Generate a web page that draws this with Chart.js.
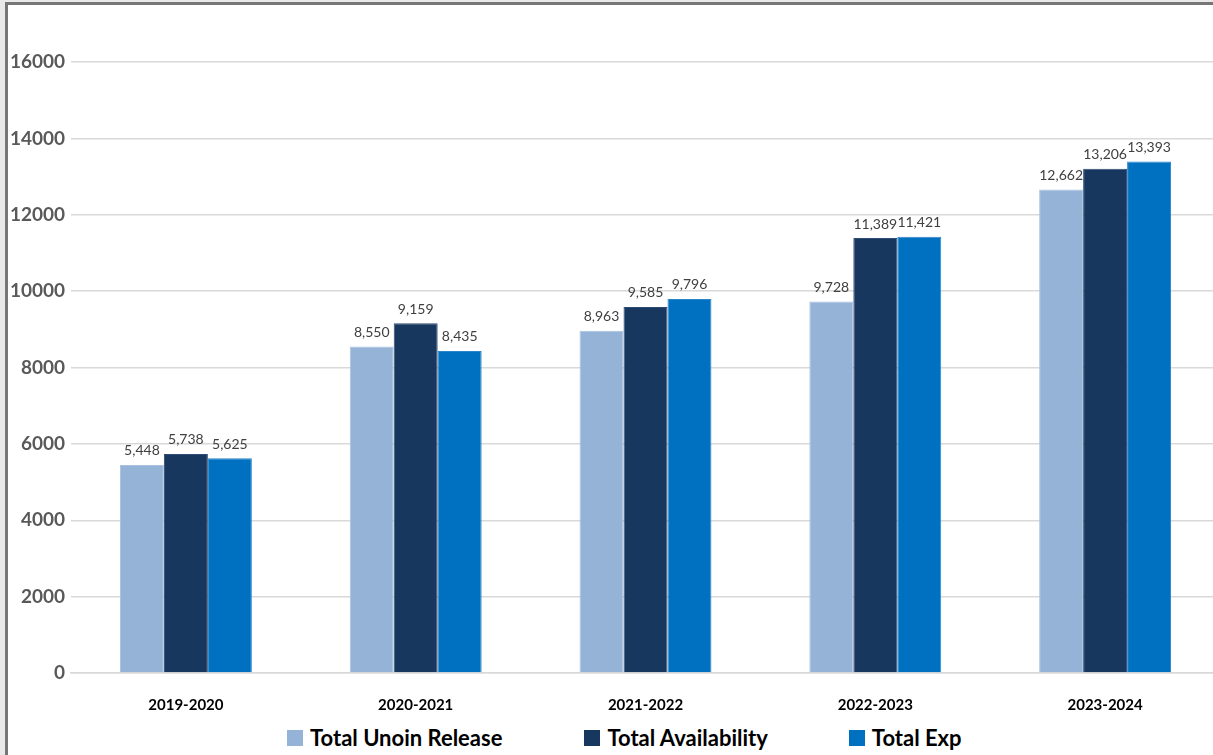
<!DOCTYPE html>
<html>
<head>
<meta charset="utf-8">
<script src="https://cdn.jsdelivr.net/npm/chart.js@4.4.1/dist/chart.umd.min.js"></script>
<style>
  html, body { margin: 0; padding: 0; width: 1213px; height: 755px; overflow: hidden; background: #e9e9e9; }
  #frame { position: absolute; left: 5px; top: 2px; width: 1240px; height: 800px; background: #ffffff;
           border-left: 3px solid #767676; border-top: 3px solid #767676; }
  #wrap { position: absolute; left: 0; top: 0; width: 1225px; height: 712px; }
  #legend { position: absolute; left: 287px; top: 724px; display: flex; align-items: center;
            font-family: Lato, "Open Sans", sans-serif; font-weight: bold; font-size: 22px; color: #000; }
  .item { display: flex; align-items: center; }
  .item:nth-child(1) { margin-right: 82px; }
  .item:nth-child(2) { margin-right: 81px; }
  .box { width: 16px; height: 16px; margin-right: 7px; }
</style>
</head>
<body>
<div id="frame"></div>
<div id="wrap"><canvas id="c"></canvas></div>
<div id="legend"></div>
<script>
const categories = ["2019-2020", "2020-2021", "2021-2022", "2022-2023", "2023-2024"];
const seriesNames = ["Total Unoin Release", "Total Availability", "Total Exp"];
const unionRelease = [5448, 8550, 8963, 9728, 12662];
const availability = [5738, 9159, 9585, 11389, 13206];
const expenditure = [5625, 8435, 9796, 11421, 13393];
const yTicks = [0, 2000, 4000, 6000, 8000, 10000, 12000, 14000, 16000];

const colors = ["#95B3D7", "#17375E", "#0070C0"];
const borders = ["#a8c2e0", "#2d4c73", "#2a86cc"];

const valueLabels = {
  id: "valueLabels",
  afterDatasetsDraw(chart) {
    const ctx = chart.ctx;
    ctx.save();
    ctx.font = "14px Lato, 'Open Sans', sans-serif";
    ctx.fillStyle = "#404040";
    ctx.textAlign = "center";
    ctx.textBaseline = "bottom";
    chart.data.datasets.forEach((ds, i) => {
      chart.getDatasetMeta(i).data.forEach((bar, j) => {
        ctx.fillText(ds.data[j].toLocaleString("en-US"), bar.x, bar.y - 7);
      });
    });
    ctx.restore();
  }
};

const chart = new Chart(document.getElementById("c"), {
  type: "bar",
  data: {
    labels: categories,
    datasets: [unionRelease, availability, expenditure].map((d, i) => ({
      label: seriesNames[i],
      data: d,
      backgroundColor: colors[i],
      borderColor: borders[i],
      borderWidth: 1,
      barPercentage: 1,
      categoryPercentage: 0.574
    }))
  },
  options: {
    responsive: true,
    maintainAspectRatio: false,
    animation: false,
    layout: { padding: { top: 62, right: 5, left: 0, bottom: 0 } },
    plugins: { legend: { display: false }, tooltip: { enabled: false } },
    scales: {
      x: {
        grid: { display: false },
        border: { display: true, color: "#d9d9d9", width: 1.5 },
        ticks: { color: "#000", padding: 15, font: { family: "Lato, 'Open Sans', sans-serif", size: 15, weight: "bold" } },
        afterFit(scale) { scale.height = 39; }
      },
      y: {
        min: 0, max: 16000,
        afterBuildTicks(scale) { scale.ticks = yTicks.map(v => ({ value: v })); },
        grid: { color: "#d9d9d9", lineWidth: 1.5, drawTicks: false },
        border: { display: false },
        ticks: {
          color: "#595959", padding: 6,
          font: { family: "Lato, 'Open Sans', sans-serif", size: 19, weight: "bold" },
          callback: v => String(v)
        },
        afterFit(scale) { scale.width = 71; }
      }
    }
  },
  plugins: [valueLabels]
});

const legend = document.getElementById("legend");
chart.data.datasets.forEach(ds => {
  const item = document.createElement("div");
  item.className = "item";
  const box = document.createElement("span");
  box.className = "box";
  box.style.background = ds.backgroundColor;
  const txt = document.createElement("span");
  txt.textContent = ds.label;
  item.appendChild(box);
  item.appendChild(txt);
  legend.appendChild(item);
});
</script>
</body>
</html>
